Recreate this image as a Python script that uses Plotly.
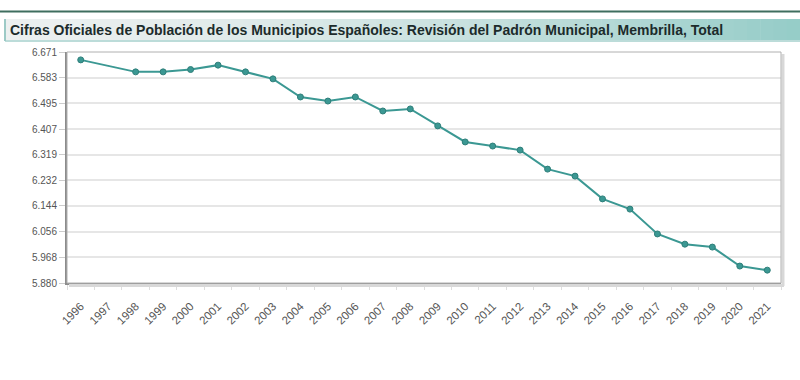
import plotly.graph_objects as go

years = [str(y) for y in range(1996, 2022)]
population = [6644, None, 6603, 6603, 6611, 6626, 6603, 6579, 6517, 6503,
              6517, 6469, 6476, 6418, 6363, 6349, 6335, 6270, 6246, 6168,
              6133, 6048, 6013, 6003, 5938, 5924]
y_ticks = [5880, 5968, 6056, 6144, 6232, 6319, 6407, 6495, 6583, 6671]
title_text = "Cifras Oficiales de Población de los Municipios Españoles: Revisión del Padrón Municipal, Membrilla, Total"

fig = go.Figure()
fig.add_trace(go.Scatter(
    x=years, y=population, mode="lines+markers", connectgaps=True,
    line=dict(color="#3b9893", width=2),
    marker=dict(color="#3b9893", size=6, line=dict(color="#2f7f7a", width=1)),
    showlegend=False, hoverinfo="x+y",
))

shapes = []
def paper_x(px):
    return (px - 67) / (781 - 67)
def paper_y(py):
    return (283 - py) / (283 - 52)

shapes.append(dict(type="line", xref="paper", yref="paper", x0=paper_x(0), x1=paper_x(800),
                   y0=paper_y(11.5), y1=paper_y(11.5), line=dict(color="#3f6e5f", width=2)))
n = 60
c0 = (236, 240, 240)
c1 = (150, 205, 200)
for i in range(n):
    t = i / (n - 1)
    t2 = t ** 1.6
    col = tuple(int(c0[k] + (c1[k] - c0[k]) * t2) for k in range(3))
    xa = 5 + (800 - 5) * i / n
    xb = 5 + (800 - 5) * (i + 1) / n + 0.5
    shapes.append(dict(type="rect", xref="paper", yref="paper", x0=paper_x(xa), x1=paper_x(xb),
                       y0=paper_y(41), y1=paper_y(19), line=dict(width=0),
                       fillcolor="rgb(%d,%d,%d)" % col, layer="below"))
shapes.append(dict(type="line", xref="paper", yref="paper", x0=paper_x(5), x1=paper_x(800),
                   y0=paper_y(41), y1=paper_y(41), line=dict(color="#bcdcd9", width=2)))
shapes.append(dict(type="line", xref="paper", yref="paper", x0=paper_x(5), x1=paper_x(5),
                   y0=paper_y(41), y1=paper_y(19), line=dict(color="#9ccac6", width=2)))
# plot frame with shadow
shapes.append(dict(type="line", xref="paper", yref="paper", x0=paper_x(783), x1=paper_x(783),
                   y0=paper_y(54), y1=paper_y(286), line=dict(color="#d8d8d8", width=3)))
shapes.append(dict(type="line", xref="paper", yref="paper", x0=paper_x(69), x1=paper_x(784),
                   y0=paper_y(285.5), y1=paper_y(285.5), line=dict(color="#d8d8d8", width=3)))
shapes.append(dict(type="rect", xref="paper", yref="paper", x0=0, x1=1, y0=0, y1=1,
                   line=dict(color="#b0b0b0", width=1)))

fig.update_layout(
    width=800, height=380,
    margin=dict(l=67, r=19, t=52, b=97),
    paper_bgcolor="white", plot_bgcolor="white",
    separators=",.",
    font=dict(family="Liberation Sans, Arial, sans-serif", color="#555555", size=11),
    shapes=shapes,
    annotations=[dict(text="<b>" + title_text + "</b>", xref="paper", yref="paper",
                      x=paper_x(8), y=paper_y(30), xanchor="left", yanchor="middle",
                      showarrow=False,
                      font=dict(family="Liberation Sans, Arial, sans-serif", size=14, color="#1c2b2b"))],
    xaxis=dict(type="category", range=[-0.5, 25.5], tickangle=-45, showgrid=False,
               showline=True, linecolor="#8c8c8c", linewidth=2, ticks="outside",
               tickson="boundaries", ticklen=5, tickcolor="#dddddd", ticklabelstandoff=10,
               tickfont=dict(size=11.5, color="#555555"), zeroline=False, fixedrange=True),
    yaxis=dict(range=[5880, 6671], tickvals=y_ticks, tickformat=",.0f",
               showgrid=True, gridcolor="#e6e6e6", gridwidth=2,
               showline=True, linecolor="#8c8c8c", linewidth=2, ticks="outside",
               ticklen=6, tickcolor="#cccccc", tickfont=dict(size=10, color="#555555"),
               zeroline=False, fixedrange=True),
)

fig.write_html("out.html", config={"displayModeBar": False},
               post_script="document.body.style.margin='0';document.body.style.overflow='hidden';")
